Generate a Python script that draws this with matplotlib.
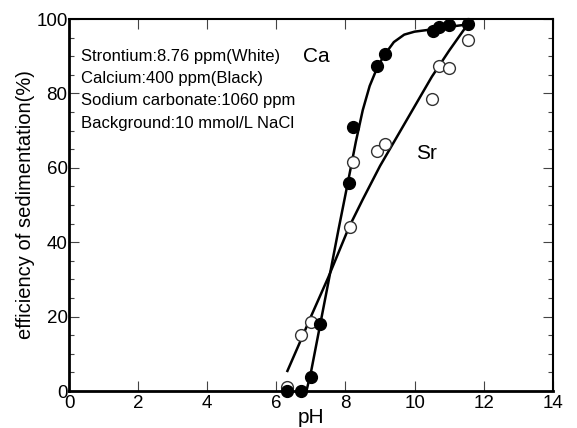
import numpy as np
import matplotlib
matplotlib.use('Agg')
import matplotlib.pyplot as plt
from matplotlib.ticker import MultipleLocator

plt.rcParams['font.family'] = ['Liberation Sans', 'DejaVu Sans']

# measured points (pH, efficiency %)
ca_ph = [6.32, 6.70, 7.01, 7.25, 8.09, 8.22, 8.90, 9.13, 10.52, 10.70, 11.00, 11.54]
ca_eff = [0.0, 0.0, 3.8, 18.0, 56.0, 70.9, 87.3, 90.6, 96.8, 97.8, 98.4, 98.6]
sr_ph = [6.32, 6.70, 7.01, 8.12, 8.22, 8.90, 9.13, 10.49, 10.70, 11.00, 11.54]
sr_eff = [1.0, 15.0, 18.6, 44.0, 61.5, 64.4, 66.5, 78.4, 87.3, 86.8, 94.3]

# fitted curves
ca_fit_ph = [6.87, 7.0, 7.25, 7.5, 7.8, 8.1, 8.3, 8.5, 8.7, 8.9, 9.1, 9.4, 9.7, 10.0, 10.5, 11.0, 11.5]
ca_fit_eff = [0.0, 5.0, 17.0, 29.0, 43.5, 57.5, 67.0, 75.5, 82.0, 86.5, 90.0, 93.8, 95.8, 96.6, 97.2, 97.9, 98.5]
sr_fit_ph = [6.32, 6.7, 7.0, 7.5, 8.1, 8.5, 9.0, 9.5, 10.0, 10.5, 11.0, 11.54]
sr_fit_eff = [5.4, 13.5, 20.0, 30.5, 44.0, 51.5, 60.5, 68.5, 76.5, 84.5, 91.5, 98.6]

notes = ['Strontium:8.76 ppm(White)', 'Calcium:400 ppm(Black)',
         'Sodium carbonate:1060 ppm', 'Background:10 mmol/L NaCl']

fig = plt.figure(figsize=(5.77, 4.28), dpi=100)
ax = fig.add_axes([0.1196, 0.0864, 0.8385, 0.8692])

ax.plot(ca_fit_ph, ca_fit_eff, color='black', lw=1.8, zorder=2)
ax.plot(sr_fit_ph, sr_fit_eff, color='black', lw=1.8, zorder=2)
ax.plot(sr_ph, sr_eff, 'o', ms=8.5, mfc='white', mec='#333333', mew=1.0, zorder=3, clip_on=False)
ax.plot(ca_ph, ca_eff, 'o', ms=8.5, mfc='black', mec='black', zorder=4, clip_on=False)

ax.set_xlim(0, 14)
ax.set_ylim(0, 100)
ax.xaxis.set_major_locator(MultipleLocator(2))
ax.yaxis.set_major_locator(MultipleLocator(20))
ax.yaxis.set_minor_locator(MultipleLocator(5))
ax.tick_params(which='both', direction='in', top=True, right=True, labelsize=13.5)
ax.tick_params(axis='x', pad=3)
ax.tick_params(axis='y', pad=1)
ax.tick_params(which='major', length=7, width=0.8, color='#444444')
ax.tick_params(which='minor', length=3.5, width=0.8, color='#444444')
for s in ['bottom', 'left']:
    ax.spines[s].set_linewidth(2.0)
for s in ['top', 'right']:
    ax.spines[s].set_linewidth(1.5)

ax.set_xlabel('pH', fontsize=15, labelpad=-3)
ax.set_ylabel('efficiency of sedimentation(%)', fontsize=14.5, labelpad=1)

for i, t in enumerate(notes):
    ax.text(0.025, 0.90 - i * 0.06, t, transform=ax.transAxes, fontsize=12, va='center', ha='left')
ax.text(7.16, 89.8, 'Ca', fontsize=15, ha='center', va='center')
ax.text(10.35, 63.9, 'Sr', fontsize=15, ha='center', va='center')

fig.savefig('out.png', dpi=100)
